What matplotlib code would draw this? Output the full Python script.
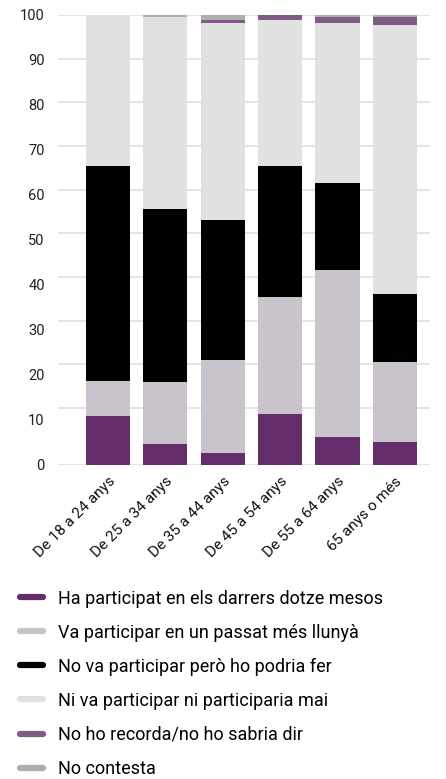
import matplotlib
matplotlib.use("Agg")
import matplotlib.pyplot as plt
from matplotlib.lines import Line2D
import numpy as np

plt.rcParams['font.family'] = ['Roboto', 'DejaVu Sans']

categories = ["De 18 a 24 anys", "De 25 a 34 anys", "De 35 a 44 anys",
              "De 45 a 54 anys", "De 55 a 64 anys", "65 anys o més"]
series_names = ["Ha participat en els darrers dotze mesos",
                "Va participar en un passat més llunyà",
                "No va participar però ho podria fer",
                "Ni va participar ni participaria mai",
                "No ho recorda/no ho sabria dir",
                "No contesta"]
ha_participat = [10.8, 4.6, 2.6, 11.2, 6.1, 5.0]
passat_llunya = [7.8, 13.8, 20.7, 26.1, 37.2, 17.8]
podria_fer = [47.9, 38.5, 31.2, 29.2, 19.4, 15.2]
mai = [33.5, 42.6, 43.8, 32.3, 35.6, 59.8]
no_recorda = [0.0, 0.0, 0.6, 1.2, 1.2, 1.8]
no_contesta = [0.0, 0.5, 1.1, 0.0, 0.5, 0.4]
y_ticks = [0, 10, 20, 30, 40, 50, 60, 70, 80, 90, 100]

colors = ["#652D6B", "#C9C3CB", "#000000", "#E1E1E1", "#7F5B85", "#AEAEAE"]
series = [ha_participat, passat_llunya, podria_fer, mai, no_recorda, no_contesta]

fig = plt.figure(figsize=(4.46, 7.79), dpi=100)
ax = fig.add_axes([58/446, 1 - 464.5/779, 372/446, 449.5/779])

x = np.arange(len(categories))
bottom = np.zeros(len(categories))
for vals, col, name in zip(series, colors, series_names):
    ax.bar(x, vals, bottom=bottom, width=0.77, color=col, label=name, zorder=3)
    bottom += np.array(vals)

# gridlines (reference draws them slightly compressed relative to labels)
grid_pos = list(np.linspace(100, 12.6, 10)) + [0]
for g in grid_pos:
    ax.axhline(g, color="#E4E1E4", lw=1.3, zorder=1)

ax.set_ylim(0, 100)
ax.set_xlim(-0.87, 5.61)
ax.set_yticks(y_ticks)
ax.set_yticklabels([str(t) for t in y_ticks], fontsize=10.5, color="#222222")
ax.tick_params(axis='y', length=0, pad=9.5)
ax.set_xticks(x)
ax.set_xticklabels(categories, rotation=45, ha='right', va='top',
                   rotation_mode='anchor', fontsize=11, color="#111111")
ax.tick_params(axis='x', length=0, pad=7)
for s in ax.spines.values():
    s.set_visible(False)

handles = [Line2D([0], [0], color=c, lw=4.5, solid_capstyle='round') for c in colors]
fig.legend(handles, series_names, loc='upper left', bbox_to_anchor=(20/446, 1 - 589.5/779),
           frameon=False, fontsize=13, handlelength=1.27, handletextpad=0.83,
           labelspacing=0.89, borderaxespad=0, borderpad=0)

fig.savefig("out.png", dpi=100)
